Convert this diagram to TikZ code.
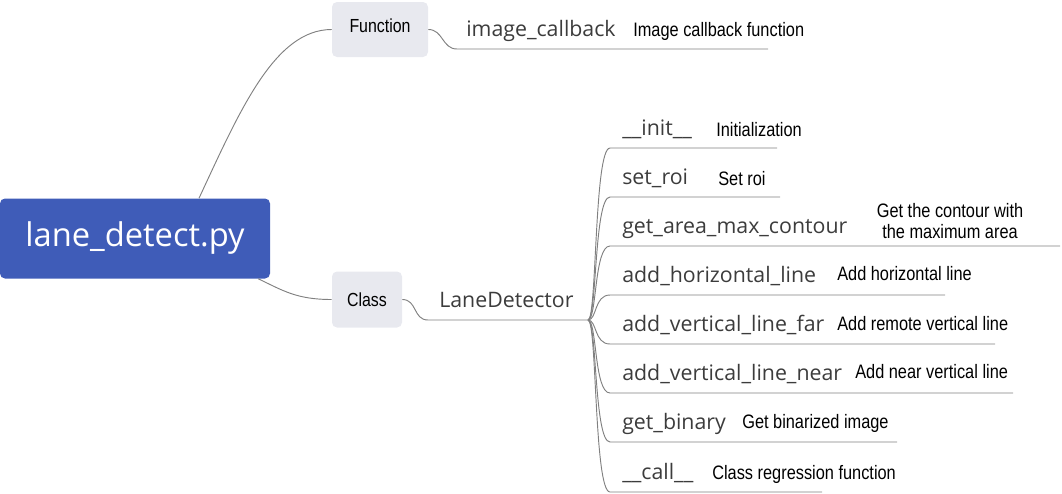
\documentclass[tikz,border=0pt]{standalone}
\usepackage{fontspec}
\newfontfamily\methfont{Open Sans}
\newfontfamily\descfont[FakeStretch=0.84]{Liberation Sans}
\definecolor{rootblue}{HTML}{3F5CB8}
\definecolor{boxgray}{HTML}{E8E9EF}
\definecolor{linegray}{HTML}{808080}
\definecolor{methgray}{HTML}{3C3C3C}
\tikzset{
	rootbox/.style={fill=rootblue, rounded corners=3.75pt, minimum width=202.5pt, minimum height=60pt, text=white, font=\methfont\fontsize{24.5}{30}\selectfont},
	tagbox/.style={fill=boxgray, rounded corners=3.75pt, font=\descfont\fontsize{14.2}{17}\selectfont},
	meth/.style={anchor=base west, inner sep=0pt, text=methgray, font=\methfont\fontsize{16}{19}\selectfont},
	desc/.style={anchor=base west, inner sep=0pt, font=\descfont\fontsize{14.6}{17}\selectfont},
	branch/.style={draw=linegray, line width=0.7pt}
}
\begin{document}
\begin{tikzpicture}[x=0.75pt,y=-0.75pt]
	\useasboundingbox (0,0) rectangle (1062,493);
	
		\node[rootbox] (root) at (135,238.5) {lane\_detect.py};
		\node[tagbox, minimum width=72pt, minimum height=41.25pt, text depth=6pt] (func) at (380,29.5) {Function};
		\node[tagbox, minimum width=52.5pt, minimum height=42pt] (cls) at (367,299.5) {Class};
		
		\node[meth] (cb) at (466,36) {image\_callback};
		\node[desc] (cbd) at (633,36) {Image callback function};
		\node[meth] (ld) at (439,307) {LaneDetector};
		
		\node[meth] (init) at (622,135) {\_\_init\_\_};
		\node[desc] (initd) at (716,136) {Initialization};
		\node[meth] (roi) at (622,184) {set\_roi};
		\node[desc] (roid) at (718,185) {Set roi};
		\node[meth] (area) at (622,233) {get\_area\_max\_contour};
		\node[desc, anchor=center, align=center, font=\descfont\fontsize{14.6}{15.75}\selectfont] (aread) at (950,221) {Get the contour with\\the maximum area};
		\node[meth] (horiz) at (622,282.5) {add\_horizontal\_line};
		\node[desc] (horizd) at (837,280) {Add horizontal line};
		\node[meth] (far) at (622,331.5) {add\_vertical\_line\_far};
		\node[desc] (fard) at (837,330) {Add remote vertical line};
		\node[meth] (near) at (622,380.5) {add\_vertical\_line\_near};
		\node[desc] (neard) at (855,378) {Add near vertical line};
		\node[meth] (bin) at (622,429.5) {get\_binary};
		\node[desc] (bind) at (742,428) {Get binarized image};
		\node[meth] (call) at (622,479) {\_\_call\_\_};
		\node[desc] (calld) at (712,479) {Class regression function};
		
		\coordinate (cbs) at (457,49);
		\coordinate (cbe) at (768,49);
		\coordinate (lds) at (428,320);
		\coordinate (hub) at (588,320);
		
		\draw[branch] ([xshift=48pt]root.north) .. controls +(41,-88) and +(-57,0) .. (func.west);
		\draw[branch] ([xshift=-9pt]root.south east) .. controls +(25,12) and +(-35,0) .. (cls.west);
		\draw[branch] (func.east) .. controls +(15,0) and +(-15,0) .. (cbs) -- (cbe);
		\draw[branch] (cls.east) .. controls +(15,0) and +(-15,0) .. (lds) -- (hub);
		
		\coordinate (inits) at (610,148);  \coordinate (inite) at (777,148);
		\coordinate (rois) at (610,197);   \coordinate (roie) at (780,197);
		\coordinate (areas) at (610,246);  \coordinate (areae) at (1060,246);
		\coordinate (horizs) at (610,295); \coordinate (horize) at (945,295);
		\coordinate (fars) at (610,344);   \coordinate (fare) at (995,344);
		\coordinate (nears) at (610,393);  \coordinate (neare) at (1013,393);
		\coordinate (bins) at (610,442);   \coordinate (bine) at (897,442);
		\coordinate (calls) at (610,492);  \coordinate (calle) at (822,492);
		
		\draw[branch] (hub) .. controls +(9,0) and +(-16,0) .. (inits) -- (inite);
		\draw[branch] (hub) .. controls +(9,0) and +(-16,0) .. (rois) -- (roie);
		\draw[branch] (hub) .. controls +(9,0) and +(-16,0) .. (areas) -- (areae);
		\draw[branch] (hub) .. controls +(9,0) and +(-16,0) .. (horizs) -- (horize);
		\draw[branch] (hub) .. controls +(9,0) and +(-16,0) .. (fars) -- (fare);
		\draw[branch] (hub) .. controls +(9,0) and +(-16,0) .. (nears) -- (neare);
		\draw[branch] (hub) .. controls +(9,0) and +(-16,0) .. (bins) -- (bine);
		\draw[branch] (hub) .. controls +(9,0) and +(-16,0) .. (calls) -- (calle);
		
	\end{tikzpicture}
\end{document}
